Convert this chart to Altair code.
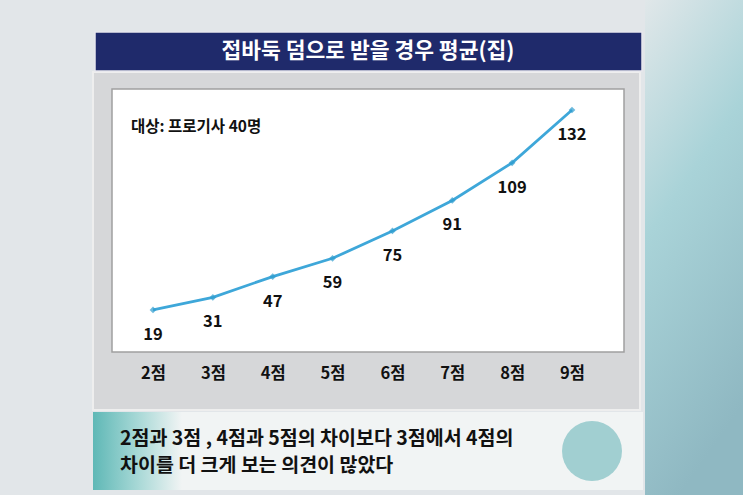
import altair as alt
import pandas as pd

# ---- data ----
scores = [2, 3, 4, 5, 6, 7, 8, 9]
categories = ["2점", "3점", "4점", "5점", "6점", "7점", "8점", "9점"]
averages = [19, 31, 47, 59, 75, 91, 109, 132]

title_text = "접바둑 덤으로 받을 경우 평균(집)"
note_text = "대상: 프로기사 40명"
caption_lines = ["2점과 3점 , 4점과 5점의 차이보다 3점에서 4점의",
                 "차이를 더 크게 보는 의견이 많았다"]

df = pd.DataFrame({"n": scores, "cat": categories, "v": averages})

FONT = "Noto Sans CJK KR"
W, H = 512, 263
one = alt.Data(values=[{}])

x = alt.X("n:Q",
          scale=alt.Scale(domain=[1.315, 9.869], nice=False, zero=False),
          axis=alt.Axis(values=scores, labelExpr="datum.value + '점'", title=None,
                        domain=False, ticks=False, grid=False, labelPadding=13,
                        labelFontSize=16.5, labelFontWeight="bold", labelColor="#111111",
                        labelFont=FONT, zindex=2))
y = alt.Y("v:Q",
          scale=alt.Scale(type="pow", exponent=1.5, domain=[-36.3, 140.6],
                          nice=False, zero=False),
          axis=None)

def box(x1, x2, y1, y2, **kw):
    return alt.Chart(one).mark_rect(**kw).encode(
        x=alt.value(x1), x2=alt.value(x2), y=alt.value(y1), y2=alt.value(y2))

right_bg = box(533, 640, -100, 410, color=alt.Gradient(
    gradient="linear", x1=0, y1=0, x2=0.3, y2=1,
    stops=[alt.GradientStop(color="#e3e8ea", offset=0),
           alt.GradientStop(color="#a9d3d8", offset=0.45),
           alt.GradientStop(color="#8fb8c2", offset=1)]))
panel = box(-19, 528, -17, 321, color="#d6d7d9", stroke="#eeeeee", strokeWidth=2)
title_bar = box(-17, 530, -57, -18, color="#1f2a6b", stroke="#e8e8ee", strokeWidth=1.5)
white = box(0, W, 0, H, color="#ffffff", stroke="#a0a0a0", strokeWidth=1.5)
caption_box = box(-19, 531, 323, 401, color="#f1f4f4")
caption_left = box(-19, 70, 323, 401, color=alt.Gradient(
    gradient="linear", x1=0, y1=0, x2=1, y2=0,
    stops=[alt.GradientStop(color="#5fb8b6", offset=0),
           alt.GradientStop(color="#a7d8d6", offset=0.5),
           alt.GradientStop(color="#f1f4f4", offset=1)]))
logo = alt.Chart(one).mark_circle(size=3600, color="#5fb0b4", opacity=0.55).encode(
    x=alt.value(480), y=alt.value(362))

title = alt.Chart(one).mark_text(text=title_text, font=FONT, fontSize=21.5,
                                 fontWeight="bold", color="#ffffff").encode(
    x=alt.value(256), y=alt.value(-37))
note = alt.Chart(one).mark_text(text=note_text, font=FONT, fontSize=15.5,
                                fontWeight="bold", color="#111111", align="left").encode(
    x=alt.value(19), y=alt.value(38))
cap1 = alt.Chart(one).mark_text(text=caption_lines[0], font=FONT, fontSize=19.5,
                                fontWeight="bold", color="#111111", align="left").encode(
    x=alt.value(8), y=alt.value(350))
cap2 = alt.Chart(one).mark_text(text=caption_lines[1], font=FONT, fontSize=19.5,
                                fontWeight="bold", color="#111111", align="left").encode(
    x=alt.value(8), y=alt.value(377))

base = alt.Chart(df)
line = base.mark_line(color="#3ea7d9", strokeWidth=2.8).encode(x=x, y=y)
pts = base.mark_point(shape="diamond", filled=True, size=45, color="#2f9ccf").encode(x=x, y=y)
labels = base.mark_text(dy=25, font=FONT, fontSize=16.5, fontWeight="bold",
                        color="#111111").encode(x=x, y=y, text="v:Q")

chart = alt.layer(
    right_bg, panel, title_bar, white, caption_box, caption_left, logo,
    title, note, cap1, cap2, line, pts, labels
).properties(
    width=W, height=H,
    padding={"left": 112, "top": 89, "right": 119, "bottom": 143},
    autosize=alt.AutoSizeParams(type="none"),
    background="#e2e6e9",
).configure_view(stroke=None)

chart.save("out.html", embed_options={"renderer": "svg", "actions": False})
